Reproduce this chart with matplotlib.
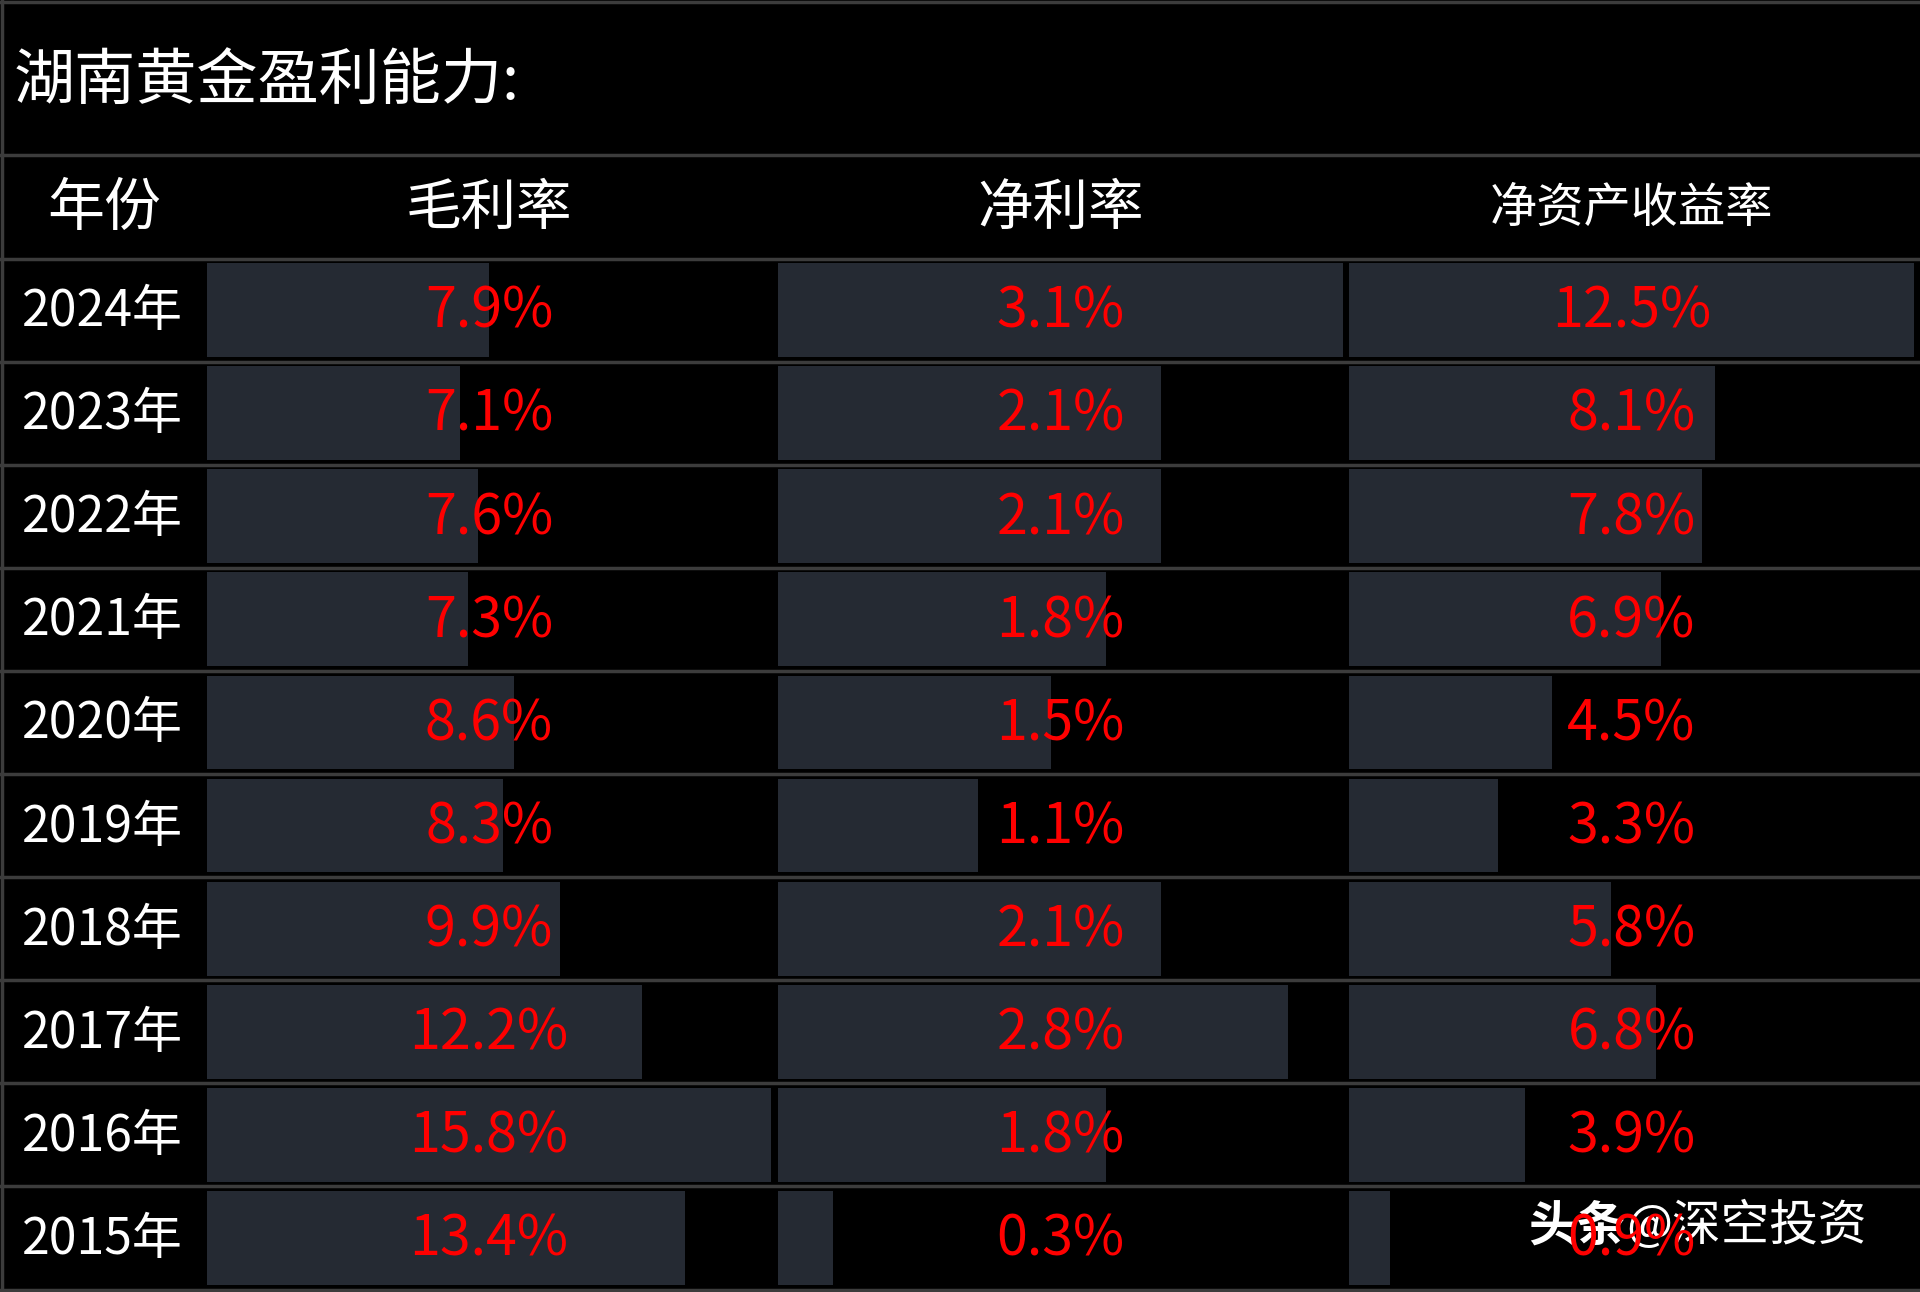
import matplotlib
matplotlib.use("Agg")
import matplotlib.pyplot as plt
import matplotlib.transforms as mtransforms

plt.rcParams['font.family'] = ['Noto Sans CJK SC', 'DejaVu Sans']

# data
years = ['2024年', '2023年', '2022年', '2021年', '2020年', '2019年', '2018年', '2017年', '2016年', '2015年']
gross_margin = [7.9, 7.1, 7.6, 7.3, 8.6, 8.3, 9.9, 12.2, 15.8, 13.4]
net_margin = [3.1, 2.1, 2.1, 1.8, 1.5, 1.1, 2.1, 2.8, 1.8, 0.3]
roe = [12.5, 8.1, 7.8, 6.9, 4.5, 3.3, 5.8, 6.8, 3.9, 0.9]
col_names = ['毛利率', '净利率', '净资产收益率']
title = '湖南黄金盈利能力:'

W, H = 1920, 1292
fig = plt.figure(figsize=(W / 100, H / 100), dpi=100, facecolor='black')

# background axes in pixel coordinates
bg = fig.add_axes([0, 0, 1, 1])
bg.set_xlim(0, W)
bg.set_ylim(H, 0)
bg.axis('off')
bg.set_facecolor('black')

LINE = '#3c3c3c'
title_bottom = 155
header_bottom = 258.5
table_bottom = 1289.5
row_h = (table_bottom - header_bottom) / len(years)

# grid lines
bg.axhline(2, color=LINE, lw=2.5)
bg.axvline(2, color=LINE, lw=2.5)
for yy in [title_bottom, header_bottom] + [header_bottom + row_h * (i + 1) for i in range(len(years))]:
    bg.axhline(yy, color=LINE, lw=2.5)

bg.text(14, title_bottom / 2 + 4, title, color='white', fontsize=44, va='center', ha='left')
header_y = (title_bottom + header_bottom) / 2 + 2
bg.text(104, header_y, '年份', color='white', fontsize=41, va='center', ha='center')

for i, y in enumerate(years):
    bg.text(22, header_bottom + row_h * (i + 0.5) + 2, y, color='white', fontsize=36,
            va='center', ha='left')

# bar columns (left, right in pixels)
cols = [(207, 771), (778, 1343), (1349, 1914)]
header_sizes = [40, 40, 34]
series = [gross_margin, net_margin, roe]

for (x0, x1), name, vals, hs in zip(cols, col_names, series, header_sizes):
    bg.text((x0 + x1) / 2, header_y, name, color='white', fontsize=hs, va='center', ha='center')
    ax = fig.add_axes([x0 / W, 1 - table_bottom / H, (x1 - x0) / W, (table_bottom - header_bottom) / H])
    ax.patch.set_alpha(0)
    ax.axis('off')
    ax.barh(range(len(vals)), vals, height=0.91, color='#252a33', left=0)
    ax.set_xlim(0, max(vals))
    ax.set_ylim(len(vals) - 0.5, -0.5)
    trans = mtransforms.blended_transform_factory(ax.transAxes, ax.transData)
    for i, v in enumerate(vals):
        ax.text(0.5, i + 0.02, f'{v:.1f}%', color='#ff0000', fontsize=40,
                transform=trans, ha='center', va='center')

# watermark
bg.text(1528, 1226, '头条', color='white', fontsize=35, fontweight='bold', va='center', ha='left')
bg.text(1626, 1226, '@深空投资', color='white', fontsize=35, va='center', ha='left')

fig.savefig('out.png', dpi=100, facecolor='black')
